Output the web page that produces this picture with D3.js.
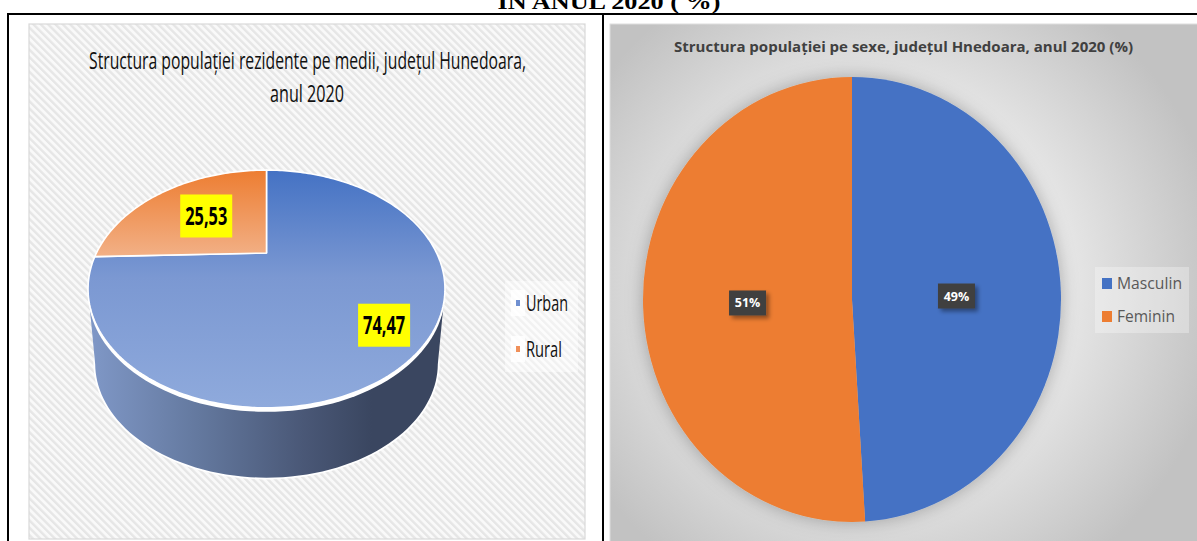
<!DOCTYPE html>
<html><head><meta charset="utf-8">
<script src="https://cdn.jsdelivr.net/npm/d3@7/dist/d3.min.js"></script>
<style>html,body{margin:0;padding:0;background:#fff;overflow:hidden}svg{display:block}</style>
</head><body><svg id="c" width="1197" height="541"></svg>
<script>
const heading = "IN ANUL 2020 ( %)";
const leftTitleLines = ["Structura populației rezidente pe medii, județul Hunedoara,", "anul 2020"];
const mediumCategories = ["Urban", "Rural"];
const mediumValues = [74.47, 25.53];
const mediumLabels = ["74,47", "25,53"];
const rightTitle = "Structura populației pe sexe, județul Hnedoara, anul 2020 (%)";
const sexCategories = ["Masculin", "Feminin"];
const sexValues = [49, 51];
const sexLabels = ["49%", "51%"];

const svg = d3.select("#c");
const defs = svg.append("defs");
const FONT = "'Open Sans', sans-serif";

function grad(id, attrs, stops, tag) {
  const g = defs.append(tag || "linearGradient").attr("id", id);
  Object.entries(attrs).forEach(([k, v]) => g.attr(k, v));
  stops.forEach(([o, c]) => g.append("stop").attr("offset", o).attr("stop-color", c));
}
const hatch = defs.append("pattern").attr("id", "hatch").attr("patternUnits", "userSpaceOnUse")
  .attr("width", 5.2).attr("height", 5.2).attr("patternTransform", "rotate(-45)");
hatch.append("rect").attr("width", 5.2).attr("height", 5.2).attr("fill", "#f9f9f9");
hatch.append("rect").attr("width", 2.4).attr("height", 5.2).attr("fill", "#e6e6e6");

grad("blueTop", {gradientUnits: "userSpaceOnUse", x1: 0, x2: 0, y1: 170, y2: 408}, [[0, "#4472c4"], [0.45, "#7b98d2"], [1, "#8faadc"]]);
grad("orangeTop", {gradientUnits: "userSpaceOnUse", x1: 0, x2: 0, y1: 170, y2: 256}, [[0, "#ed7d31"], [1, "#f2b086"]]);
grad("wall", {gradientUnits: "userSpaceOnUse", x1: 92, x2: 442, y1: 0, y2: 0}, [[0, "#7f97c6"], [0.3, "#64799f"], [0.6, "#4a5877"], [0.8, "#3a4660"], [1, "#3a4660"]]);
grad("bgRight", {gradientUnits: "userSpaceOnUse", cx: 880, cy: 285, r: 345}, [[0, "#f7f7f7"], [0.45, "#eeeeee"], [1, "#c2c2c2"]], "radialGradient");

const soft = defs.append("filter").attr("id", "halo").attr("x", "-20%").attr("y", "-20%").attr("width", "140%").attr("height", "140%");
soft.append("feDropShadow").attr("dx", 0).attr("dy", 0).attr("stdDeviation", 9).attr("flood-color", "#000").attr("flood-opacity", 0.28);
const lab = defs.append("filter").attr("id", "labShadow").attr("x", "-30%").attr("y", "-30%").attr("width", "170%").attr("height", "170%");
lab.append("feDropShadow").attr("dx", 3).attr("dy", 3).attr("stdDeviation", 2).attr("flood-color", "#000").attr("flood-opacity", 0.4);
const blurW = defs.append("filter").attr("id", "blurW");
blurW.append("feGaussianBlur").attr("stdDeviation", 0.7);

// Heading, clipped by the top of the page
svg.append("text").attr("x", 609).attr("y", 8.5).attr("text-anchor", "middle")
  .attr("font-family", "'Liberation Serif', serif").attr("font-weight", 700).attr("font-size", 20)
  .attr("textLength", 223).attr("lengthAdjust", "spacingAndGlyphs").attr("fill", "#000").text(heading);

// Panels
svg.append("rect").attr("x", 29).attr("y", 24).attr("width", 556).attr("height", 515)
  .attr("fill", "url(#hatch)").attr("stroke", "#d9d9d9").attr("stroke-width", 1.2);
svg.append("rect").attr("x", 610).attr("y", 24).attr("width", 590).attr("height", 520)
  .attr("fill", "url(#bgRight)").attr("stroke", "#dedede");

// Table frame
const frame = svg.append("g").attr("stroke", "#000").attr("stroke-width", 2).attr("fill", "none");
frame.append("line").attr("x1", 7).attr("x2", 1197).attr("y1", 14).attr("y2", 14);
frame.append("line").attr("x1", 8).attr("x2", 8).attr("y1", 13).attr("y2", 541);
frame.append("line").attr("x1", 603).attr("x2", 603).attr("y1", 14).attr("y2", 541);

// ---- Left: perspective 3D pie ----
const P = {cx: 266.5, cy: 253, c: 170.1, b: 108, k: 0.3025};
function project(a, r, dy, s) {
  const u = r * Math.sin(a), v = -r * Math.cos(a), w = 1 - P.k * v;
  return [P.cx + (s || 1) * P.c * u / w, P.cy + (dy || 0) + (s || 1) * P.b * v / w];
}
const line = d3.line();
const ring = d3.range(0, 2 * Math.PI + 0.01, Math.PI / 90);
const BASE = {dy: 76, s: 0.96};

const left = svg.append("g");
// wall = hull of the front halves of the top disc and the base disc
function frontArc(dy, s) {
  const pts = ring.map(a => project(a, 1, dy, s));
  const iR = d3.greatest(pts.map((p, i) => [p[0], i]), d => d[0])[1];
  const iL = d3.least(pts.map((p, i) => [p[0], i]), d => d[0])[1];
  return pts.slice(iR, iL + 1);
}
const wallPts = frontArc(0, 1).concat(frontArc(BASE.dy, BASE.s).reverse());
left.append("path").attr("d", line(ring.map(a => project(a, 1, BASE.dy, BASE.s))) + "Z")
  .attr("fill", "#fff").attr("stroke", "#fff").attr("stroke-width", 3.5).attr("filter", "url(#blurW)");
left.append("path").attr("d", line(wallPts) + "Z").attr("fill", "url(#wall)");
left.append("path").attr("d", line(ring.map(a => project(a, 1, 4, 1))) + "Z").attr("fill", "#fff");

const mediumArcs = d3.pie().sort(null)(mediumValues);
const fills = ["url(#blueTop)", "url(#orangeTop)"];
mediumArcs.forEach((d, i) => {
  const n = Math.ceil((d.endAngle - d.startAngle) / 0.02);
  const pts = d3.range(n + 1).map(j => project(d.startAngle + (d.endAngle - d.startAngle) * j / n, 1));
  left.append("path").attr("d", line([project(0, 0)].concat(pts)) + "Z")
    .attr("fill", fills[i]).attr("stroke", "#fff").attr("stroke-width", 1.6).attr("stroke-linejoin", "round");
});
const labelFrac = [0.8, 0.55];
mediumArcs.forEach((d, i) => {
  const [x, y] = project((d.startAngle + d.endAngle) / 2, labelFrac[i]);
  left.append("rect").attr("x", x - 26).attr("y", y - 21.5).attr("width", 52).attr("height", 43).attr("fill", "#ffff00");
  left.append("text").attr("x", x).attr("y", y + 9).attr("text-anchor", "middle")
    .attr("font-family", FONT).attr("font-weight", 700).attr("font-size", 25)
    .attr("textLength", 42).attr("lengthAdjust", "spacingAndGlyphs").attr("fill", "#000").text(mediumLabels[i]);
});

// Left title
const titleW = [437, 74], titleY = [68.5, 101.5];
leftTitleLines.forEach((t, i) => {
  svg.append("text").attr("x", i ? 307 : 307.5).attr("y", titleY[i]).attr("text-anchor", "middle")
    .attr("font-family", FONT).attr("font-size", 24).attr("fill", "#111")
    .attr("textLength", titleW[i]).attr("lengthAdjust", "spacingAndGlyphs").text(t);
});

// Left legend
svg.append("rect").attr("x", 505).attr("y", 281).attr("width", 73).attr("height", 91).attr("fill", "#fff").attr("opacity", 0.45);
const legY = d3.scalePoint().domain(mediumCategories).range([303, 349]);
const legCol = ["#6f8fd0", "#f0905a"], legW = [42, 36];
mediumCategories.forEach((c, i) => {
  svg.append("rect").attr("x", 511).attr("y", legY(c) - 13).attr("width", 14).attr("height", 26).attr("fill", "#fff").attr("opacity", 0.8);
  svg.append("rect").attr("x", 516).attr("y", legY(c) - 3).attr("width", 4).attr("height", 6).attr("fill", legCol[i]);
  svg.append("text").attr("x", 526).attr("y", legY(c) + 8).attr("font-family", FONT).attr("font-size", 22).attr("fill", "#111")
    .attr("textLength", legW[i]).attr("lengthAdjust", "spacingAndGlyphs").text(c);
});

// ---- Right: flat pie stretched vertically ----
const R = {cx: 852, cy: 299.5, rx: 209, ry: 222.5};
const sexArcs = d3.pie().sort(null)(sexValues);
const arc = d3.arc().innerRadius(0).outerRadius(R.ry);
const sexColors = d3.scaleOrdinal().domain(sexCategories).range(["#4472c4", "#ed7d31"]);
const right = svg.append("g").attr("transform", `translate(${R.cx},${R.cy}) scale(${R.rx / R.ry},1)`).attr("filter", "url(#halo)");
right.selectAll("path").data(sexArcs).join("path").attr("d", arc)
  .attr("fill", (d, i) => sexColors(sexCategories[i]));

sexArcs.forEach((d, i) => {
  const [cx, cy] = arc.centroid(d);
  const x = R.cx + cx * R.rx / R.ry, y = R.cy + cy;
  svg.append("rect").attr("x", x - 18.5).attr("y", y - 12.5).attr("width", 37).attr("height", 25)
    .attr("fill", "#404040").attr("filter", "url(#labShadow)");
  svg.append("text").attr("x", x).attr("y", y + 4.5).attr("text-anchor", "middle")
    .attr("font-family", FONT).attr("font-weight", 700).attr("font-size", 12.5).attr("fill", "#fff").text(sexLabels[i]);
});

svg.append("text").attr("x", 903.5).attr("y", 52).attr("text-anchor", "middle")
  .attr("font-family", FONT).attr("font-weight", 700).attr("font-size", 14).attr("fill", "#404040")
  .attr("textLength", 459).attr("lengthAdjust", "spacingAndGlyphs").text(rightTitle);

svg.append("rect").attr("x", 1095).attr("y", 267).attr("width", 94).attr("height", 66).attr("fill", "#fff").attr("opacity", 0.3);
const legY2 = d3.scalePoint().domain(sexCategories).range([283.5, 316.5]);
const legW2 = [65, 58];
sexCategories.forEach((c, i) => {
  svg.append("rect").attr("x", 1102).attr("y", legY2(c) - 5.5).attr("width", 10).attr("height", 11).attr("fill", sexColors(c));
  svg.append("text").attr("x", 1117).attr("y", legY2(c) + 5.5).attr("font-family", FONT).attr("font-size", 15.5).attr("fill", "#595959")
    .attr("textLength", legW2[i]).attr("lengthAdjust", "spacingAndGlyphs").text(c);
});
</script></body></html>
